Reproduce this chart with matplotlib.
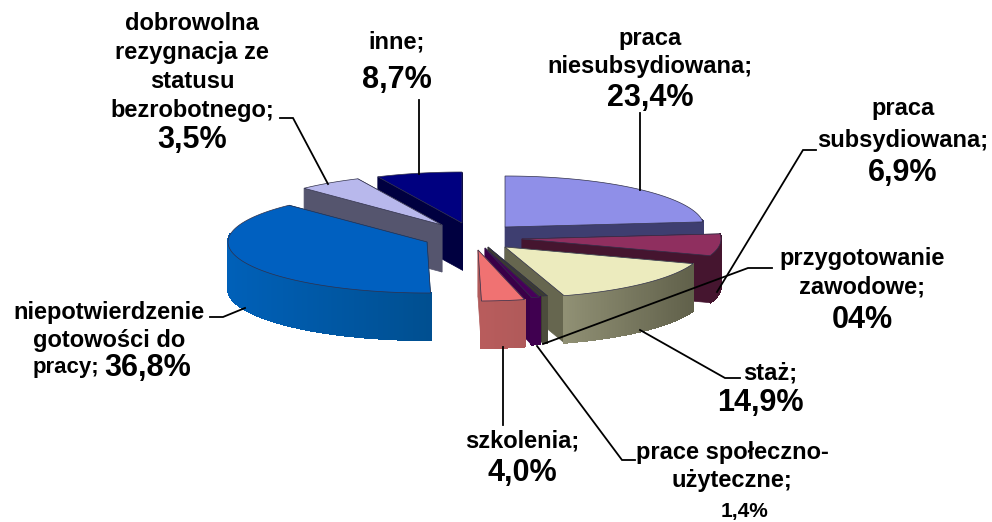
import numpy as np
import matplotlib
matplotlib.use("Agg")
import matplotlib.pyplot as plt
from matplotlib.patches import Polygon

plt.rcParams['font.family'] = ['Liberation Sans', 'DejaVu Sans']

# slice values in percent, clockwise from the top
values = [23.4, 6.9, 14.9, 0.4, 1.4, 4.0, 36.8, 3.5, 8.7]

# look of the slices
top_colors = ['#8f8fe8', '#8f2f5f', '#ecebbe', '#3c3c30', '#48005a', '#f07272', '#0060c0', '#b8b8ec', '#000080']
face_colors = ['#3e3e70', '#45152f', '#66664f', '#3c3c30', '#3a0048', '#b05a5a', '#004f90', '#55556e', '#000040']
arc_left = ['#5a5a90', '#45152f', '#909074', '#4c4c3c', '#400050', '#b85c5c', '#0060b8', '#55556e', '#000040']
arc_right = ['#3e3e70', '#45152f', '#60604a', '#4c4c3c', '#400050', '#b05a5a', '#004f90', '#55556e', '#000040']
apex_x = [505, 522, 505, 488, 485, 478, 427, 442, 462]
apex_y = [227, 239, 247, 247, 248, 250, 242, 225, 223]
draw_order = [8, 7, 6, 0, 1, 2, 3, 4, 5]

RX, RY, DEPTH = 199, 51, 47

# the 3d view pulls some angles away from their true place
view_in = [0, 164, 169.2, 183.6, 316, 328.7, 360]
view_out = [0, 164, 166.5, 179, 316, 335, 360]

labels = [
    (397, [('inne;', 42)], ('8,7%', 80)),
    (650, [('praca', 38), ('niesubsydiowana;', 66)], ('23,4%', 98)),
    (903, [('praca', 108), ('subsydiowana;', 141)], ('6,9%', 173)),
    (862, [('przygotowanie', 259), ('zawodowe;', 287)], ('04%', 320)),
    (770, [('staż;', 373)], None),
    (760, [], ('14,9%', 403)),
    (522, [('szkolenia;', 441)], ('4,0%', 473)),
    (732, [('prace społeczno-', 452), ('użyteczne;', 480)], None),
    (192, [('dobrowolna', 23), ('rezygnacja ze', 53), ('statusu', 82),
           ('bezrobotnego;', 111)], ('3,5%', 140)),
    (109, [('niepotwierdzenie', 312), ('gotowości do', 340)], None),
]

leaders = [
    [(419, 174), (419, 100)],
    [(640, 190), (640, 113)],
    [(717, 292), (803, 150), (816, 150)],
    [(543, 344), (748, 268), (772, 268)],
    [(640, 330), (725, 378), (740, 378)],
    [(503, 347), (503, 425)],
    [(537, 346), (622, 460), (635, 460)],
    [(245, 308), (223, 317), (210, 317)],
    [(328, 184), (293, 118), (280, 118)],
]


def rim(cx, cy, angles):
    a = np.radians(angles)
    return cx + RX * np.sin(a), cy - RY * np.cos(a)


def draw_slice(ax, i, start, end):
    cx, cy = apex_x[i], apex_y[i]
    n = max(int(end - start) * 2, 2)
    angles = np.interp(np.linspace(start, end, n), view_in, view_out)
    xs, ys = rim(cx, cy, angles)

    # flat cut faces
    for x, y in [(xs[0], ys[0]), (xs[-1], ys[-1])]:
        pts = [(cx, cy), (x, y), (x, y + DEPTH), (cx, cy + DEPTH)]
        ax.add_patch(Polygon(pts, closed=True, fc=face_colors[i], ec=face_colors[i], lw=0.5))

    # outer wall, shaded across
    c0 = np.array(matplotlib.colors.to_rgb(arc_left[i]))
    c1 = np.array(matplotlib.colors.to_rgb(arc_right[i]))
    span = max(xs.max() - xs.min(), 1)
    for k in range(n - 1):
        # only the part turned to the viewer
        if np.cos(np.radians(angles[k])) > 0.15 and i != 1:
            continue
        t = (0.5 * (xs[k] + xs[k + 1]) - xs.min()) / span
        col = c0 + (c1 - c0) * t
        pts = [(xs[k], ys[k]), (xs[k + 1], ys[k + 1]),
               (xs[k + 1], ys[k + 1] + DEPTH), (xs[k], ys[k] + DEPTH)]
        ax.add_patch(Polygon(pts, closed=True, fc=col, ec=col, lw=0.8, antialiased=False))

    top = [(cx, cy)] + list(zip(xs, ys))
    ax.add_patch(Polygon(top, closed=True, fc=top_colors[i], ec='#30304a', lw=0.5))


fig = plt.figure(figsize=(9.92, 5.22), dpi=100)
ax = fig.add_axes([0, 0, 1, 1])
ax.set_xlim(0, 992)
ax.set_ylim(522, 0)
ax.axis('off')

edges = np.concatenate([[0], np.cumsum(values)]) * 3.6
for i in draw_order:
    draw_slice(ax, i, edges[i], edges[i + 1])

for line in leaders:
    ax.plot([p[0] for p in line], [p[1] for p in line], color='black', lw=1.3, solid_joinstyle='miter')

for cx, lines, pct in labels:
    for text, y in lines:
        ax.text(cx, y, text, ha='center', va='center', fontsize=17, fontweight='bold')
    if pct:
        ax.text(cx, pct[1], pct[0], ha='center', va='center', fontsize=22, fontweight='bold')

ax.text(744, 512, '1,4%', ha='center', va='center', fontsize=15, fontweight='bold')
ax.text(66, 368, 'pracy;', ha='center', va='center', fontsize=16, fontweight='bold')
ax.text(148, 368, '36,8%', ha='center', va='center', fontsize=22, fontweight='bold')

fig.savefig('out.png', dpi=100)
plt.close(fig)
